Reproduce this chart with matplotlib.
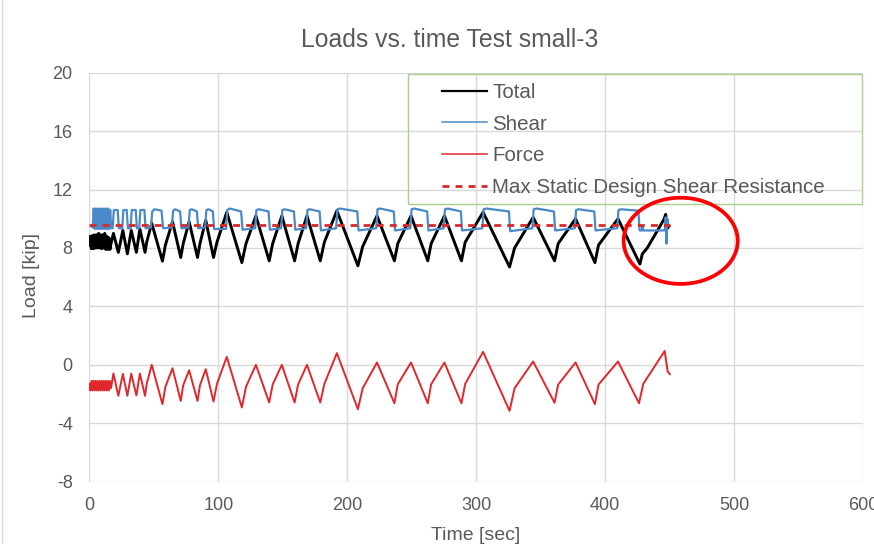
import matplotlib
matplotlib.use('Agg')
import matplotlib.pyplot as plt
from matplotlib.patches import Ellipse, Rectangle
from matplotlib.lines import Line2D

plt.rcParams['font.family'] = ['Liberation Sans', 'DejaVu Sans']
plt.rcParams['axes.unicode_minus'] = False

# ---------------- data ----------------
total_time = [0, 0.8, 1.6, 2.4, 3.2, 4.0, 4.8, 5.6, 6.4, 7.2, 8.0, 8.8, 9.6, 10.4, 11.2,
              12.0, 12.8, 13.6, 14.4, 15.2, 16.0, 16.8,
              18.7, 22.5, 26.0, 29.5, 32.5, 36.5, 39.2, 43.2, 44.5, 48.4, 56.7, 59.0,
              64.5, 70.9, 72.8, 77.4, 83.9, 85.8, 90.3, 96.3, 99.0, 106.6, 118.3, 121.5,
              129.2, 139.5, 142.2, 149.3, 159.2, 161.9, 168.8, 179.1, 182.3, 192.0,
              208.3, 212.0, 223.1, 236.6, 239.2, 249.5, 262.5, 265.1, 275.4, 288.6,
              291.5, 305.4, 325.9, 329.8, 344.2, 360.8, 363.6, 377.1, 392.1, 394.9,
              410.0, 427.0, 428.9, 432.7, 445.6, 447.0, 448.0, 449.5]
total_load = [8.2, 8.8, 7.95, 8.85, 7.95, 8.9, 8.0, 8.9, 8.0, 9.0, 8.0, 8.9, 7.95, 8.9, 8.0,
              9.0, 7.9, 8.8, 7.9, 8.7, 7.9, 8.3,
              9.0, 7.7, 9.2, 7.6, 9.2, 7.7, 9.3, 7.7, 8.4, 9.7, 7.1, 8.2,
              9.8, 7.35, 8.3, 9.8, 7.35, 8.3, 9.9, 7.35, 8.4, 10.45, 7.0, 8.3,
              10.2, 7.12, 8.3, 10.2, 7.12, 8.3, 10.2, 7.12, 8.4, 10.55,
              6.78, 8.1, 10.2, 7.12, 8.3, 10.2, 7.12, 8.3, 10.2, 7.12,
              8.4, 10.45, 6.7, 8.0, 10.1, 7.12, 8.3, 10.0, 7.0, 8.2,
              10.0, 6.9, 7.6, 8.0, 9.95, 10.3, 9.3, 9.5]

shear_time = [1.5, 2.6, 3.4, 4.2, 5.0, 5.8, 6.6, 7.4, 8.2, 9.0, 9.8, 10.6, 11.4, 12.2, 13.0,
              13.8, 14.6, 15.4, 16.2, 17.0,
              18.1, 19.0, 22.0, 22.9, 25.5, 26.4, 29.0, 29.9, 32.0, 32.9, 36.0, 36.9,
              38.7, 39.6, 42.7, 43.6,
              47.8, 48.8, 50.5, 56.0, 57.2, 64.0, 65.0, 66.5, 70.4, 71.4,
              76.9, 77.9, 79.5, 83.4, 84.4, 89.8, 90.8, 92.5, 95.8, 96.8,
              106.0, 107.0, 109.0, 117.7, 118.8, 128.6, 129.6, 131.5, 139.0, 140.0,
              148.7, 149.7, 151.5, 158.7, 159.7, 168.2, 169.2, 171.0, 178.6, 179.6,
              191.4, 192.4, 194.5, 207.8, 208.8, 222.5, 223.5, 225.5, 236.1, 237.1,
              248.9, 249.9, 252.0, 262.0, 263.0, 274.8, 275.8, 278.0, 288.1, 289.1,
              304.8, 305.8, 308.0, 325.4, 326.4, 343.6, 344.6, 347.0, 360.3, 361.3,
              376.5, 377.5, 379.5, 391.6, 392.6, 409.4, 410.4, 412.5, 425.8, 426.8,
              428.5, 429.0, 429.5, 446.5, 447.0, 447.6, 448.2, 449.0]
shear_load = [9.5, 9.4, 10.7, 9.3, 10.7, 9.3, 10.7, 9.3, 10.7, 9.3, 10.7, 9.3, 10.7, 9.3, 10.7,
              9.3, 10.7, 9.3, 10.6, 9.35,
              9.35, 10.6, 10.6, 9.35, 9.35, 10.6, 10.6, 9.35, 9.35, 10.6, 10.6, 9.35,
              9.35, 10.6, 10.6, 9.35,
              9.4, 10.5, 10.65, 10.55, 9.35, 9.4, 10.55, 10.65, 10.5, 9.35,
              9.4, 10.6, 10.65, 10.5, 9.35, 9.4, 10.6, 10.65, 10.5, 9.3,
              9.3, 10.6, 10.7, 10.5, 9.25, 9.35, 10.6, 10.65, 10.5, 9.25,
              9.35, 10.6, 10.65, 10.5, 9.25, 9.35, 10.6, 10.65, 10.5, 9.2,
              9.35, 10.65, 10.7, 10.5, 9.2, 9.35, 10.65, 10.7, 10.5, 9.2,
              9.35, 10.65, 10.7, 10.5, 9.2, 9.35, 10.65, 10.7, 10.5, 9.2,
              9.35, 10.65, 10.7, 10.5, 9.15, 9.35, 10.65, 10.7, 10.5, 9.2,
              9.35, 10.6, 10.65, 10.5, 9.2, 9.35, 10.6, 10.65, 10.55, 9.2,
              9.2, 9.5, 9.2, 9.2, 10.1, 8.3, 10.0, 9.6]

force_time = [0, 0.8, 1.6, 2.4, 3.2, 4.0, 4.8, 5.6, 6.4, 7.2, 8.0, 8.8, 9.6, 10.4, 11.2,
              12.0, 12.8, 13.6, 14.4, 15.2, 16.0, 16.8,
              18.7, 22.5, 26.0, 29.5, 32.5, 36.5, 39.2, 43.2, 44.5, 48.4, 56.7, 59.0,
              64.5, 70.9, 72.8, 77.4, 83.9, 85.8, 90.3, 96.3, 99.0, 106.6, 118.3, 121.5,
              129.2, 139.5, 142.2, 149.3, 159.2, 161.9, 168.8, 179.1, 182.3, 192.0,
              208.3, 212.0, 223.1, 236.6, 239.2, 249.5, 262.5, 265.1, 275.4, 288.6,
              291.5, 305.4, 325.9, 329.8, 344.2, 360.8, 363.6, 377.1, 392.1, 394.9,
              410.0, 426.3, 429.6, 446.2, 448.5, 450.2]
force_load = [-1.3, -1.75, -1.1, -1.75, -1.1, -1.75, -1.1, -1.75, -1.1, -1.75, -1.1, -1.75,
              -1.1, -1.75, -1.1, -1.75, -1.1, -1.75, -1.1, -1.75, -1.1, -1.6,
              -0.59, -2.12, -0.62, -2.12, -0.6, -2.1, -0.6, -2.12, -1.3, 0.0, -2.69, -1.5,
              -0.23, -2.47, -1.4, -0.37, -2.47, -1.4, -0.30, -2.51, -1.3, 0.55, -2.92, -1.5,
              0.0, -2.58, -1.35, 0.0, -2.58, -1.35, 0.0, -2.58, -1.3, 0.8,
              -3.04, -1.6, 0.16, -2.63, -1.33, 0.16, -2.63, -1.33, 0.16, -2.63,
              -1.3, 0.89, -3.15, -1.6, 0.23, -2.6, -1.35, 0.16, -2.69, -1.35,
              0.23, -2.63, -1.3, 0.95, -0.45, -0.64]

max_time = [0, 450]
max_load = [9.6, 9.6]

series_labels = ['Total', 'Shear', 'Force', 'Max Static Design Shear Resistance']
x_ticks = [0, 100, 200, 300, 400, 500, 600]
y_ticks = [-8, -4, 0, 4, 8, 12, 16, 20]

# ---------------- styles ----------------
TXT = '#595959'
C_TOTAL = '#000000'
C_SHEAR = '#4a89c8'
C_FORCE = '#e0282c'
C_MAX = '#d42a2a'

fig = plt.figure(figsize=(8.74, 5.44), dpi=100)
ax = fig.add_axes([0.1022, 0.1145, 0.8852, 0.7519])

ax.plot(total_time, total_load, color=C_TOTAL, lw=2.1, zorder=3)
ax.plot(shear_time, shear_load, color=C_SHEAR, lw=1.6, zorder=4)
ax.plot(force_time, force_load, color=C_FORCE, lw=1.4, zorder=5)
ax.plot(max_time, max_load, color=C_MAX, lw=2.0, dashes=(2.5, 2.2), zorder=6)

ax.set_xlim(0, 600)
ax.set_ylim(-8, 20)
ax.set_xticks(x_ticks)
ax.set_yticks(y_ticks)
ax.grid(True, color='#d9d9d9', lw=1)
ax.set_axisbelow(True)
for s in ax.spines.values():
    s.set_visible(False)
ax.tick_params(axis='both', length=0, labelsize=13, colors=TXT)
ax.tick_params(axis='x', pad=11)
ax.tick_params(axis='y', pad=12)

fig.text(450 / 874, 1 - 40 / 544, 'Loads vs. time Test small-3', fontsize=17.8,
         color=TXT, ha='center', va='center')
fig.text(476 / 874, 1 - 535 / 544, 'Time [sec]', fontsize=14, color=TXT,
         ha='center', va='center')
fig.text(32 / 874, 1 - 275 / 544, 'Load [kip]', fontsize=14, color=TXT,
         ha='center', va='center', rotation=90)

# legend
handles = [Line2D([], [], color=C_TOTAL, lw=1.6),
           Line2D([], [], color=C_SHEAR, lw=1.1),
           Line2D([], [], color=C_FORCE, lw=1.1),
           Line2D([], [], color=C_MAX, lw=2.0, dashes=(2.5, 2.2))]
leg = ax.legend(handles, series_labels, loc='upper left', bbox_to_anchor=(0.456, 0.975),
                frameon=False, fontsize=14.8, handlelength=2.2, handletextpad=0.25,
                labelspacing=0.62, borderaxespad=0, borderpad=0)
for t in leg.get_texts():
    t.set_color(TXT)
ax.add_patch(Rectangle((0.412, 0.679), 0.5867, 0.318, transform=ax.transAxes,
                       fill=False, edgecolor='#a9d18e', lw=1.0, clip_on=False, zorder=7))

# red annotation ellipse
ax.add_patch(Ellipse((458.6, 8.49), 88.5, 5.9, fill=False, edgecolor='#ff0000',
                     lw=2.7, zorder=10, clip_on=False))

fig.add_artist(Line2D([1.5 / 874, 1.5 / 874], [0, 1], color='#d9d9d9', lw=1))

fig.savefig('out.png', dpi=100)
